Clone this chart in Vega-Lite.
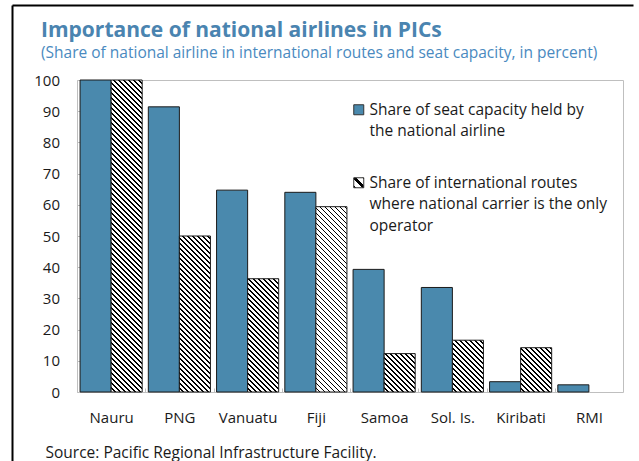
{
"$schema": "https://vega.github.io/schema/vega-lite/v6.json",
"width": 621, "height": 456,
"autosize": {"type": "none"},
"padding": {"left": 12, "top": 5, "right": 6, "bottom": 0},
"background": "#ffffff",
"params": [
{"name": "hatch", "value": [
{"offset":0,"color":"#fff"},{"offset":0.0093,"color":"#fff"},{"offset":0.0093,"color":"#000"},{"offset":0.0143,"color":"#000"},
{"offset":0.0143,"color":"#fff"},{"offset":0.0236,"color":"#fff"},{"offset":0.0236,"color":"#000"},{"offset":0.0286,"color":"#000"},
{"offset":0.0286,"color":"#fff"},{"offset":0.0379,"color":"#fff"},{"offset":0.0379,"color":"#000"},{"offset":0.0429,"color":"#000"},
{"offset":0.0429,"color":"#fff"},{"offset":0.0521,"color":"#fff"},{"offset":0.0521,"color":"#000"},{"offset":0.0571,"color":"#000"},
{"offset":0.0571,"color":"#fff"},{"offset":0.0664,"color":"#fff"},{"offset":0.0664,"color":"#000"},{"offset":0.0714,"color":"#000"},
{"offset":0.0714,"color":"#fff"},{"offset":0.0807,"color":"#fff"},{"offset":0.0807,"color":"#000"},{"offset":0.0857,"color":"#000"},
{"offset":0.0857,"color":"#fff"},{"offset":0.095,"color":"#fff"},{"offset":0.095,"color":"#000"},{"offset":0.1,"color":"#000"},
{"offset":0.1,"color":"#fff"},{"offset":0.1093,"color":"#fff"},{"offset":0.1093,"color":"#000"},{"offset":0.1143,"color":"#000"},
{"offset":0.1143,"color":"#fff"},{"offset":0.1236,"color":"#fff"},{"offset":0.1236,"color":"#000"},{"offset":0.1286,"color":"#000"},
{"offset":0.1286,"color":"#fff"},{"offset":0.1379,"color":"#fff"},{"offset":0.1379,"color":"#000"},{"offset":0.1429,"color":"#000"},
{"offset":0.1429,"color":"#fff"},{"offset":0.1521,"color":"#fff"},{"offset":0.1521,"color":"#000"},{"offset":0.1571,"color":"#000"},
{"offset":0.1571,"color":"#fff"},{"offset":0.1664,"color":"#fff"},{"offset":0.1664,"color":"#000"},{"offset":0.1714,"color":"#000"},
{"offset":0.1714,"color":"#fff"},{"offset":0.1807,"color":"#fff"},{"offset":0.1807,"color":"#000"},{"offset":0.1857,"color":"#000"},
{"offset":0.1857,"color":"#fff"},{"offset":0.195,"color":"#fff"},{"offset":0.195,"color":"#000"},{"offset":0.2,"color":"#000"},
{"offset":0.2,"color":"#fff"},{"offset":0.2093,"color":"#fff"},{"offset":0.2093,"color":"#000"},{"offset":0.2143,"color":"#000"},
{"offset":0.2143,"color":"#fff"},{"offset":0.2236,"color":"#fff"},{"offset":0.2236,"color":"#000"},{"offset":0.2286,"color":"#000"},
{"offset":0.2286,"color":"#fff"},{"offset":0.2379,"color":"#fff"},{"offset":0.2379,"color":"#000"},{"offset":0.2429,"color":"#000"},
{"offset":0.2429,"color":"#fff"},{"offset":0.2521,"color":"#fff"},{"offset":0.2521,"color":"#000"},{"offset":0.2571,"color":"#000"},
{"offset":0.2571,"color":"#fff"},{"offset":0.2664,"color":"#fff"},{"offset":0.2664,"color":"#000"},{"offset":0.2714,"color":"#000"},
{"offset":0.2714,"color":"#fff"},{"offset":0.2807,"color":"#fff"},{"offset":0.2807,"color":"#000"},{"offset":0.2857,"color":"#000"},
{"offset":0.2857,"color":"#fff"},{"offset":0.295,"color":"#fff"},{"offset":0.295,"color":"#000"},{"offset":0.3,"color":"#000"},
{"offset":0.3,"color":"#fff"},{"offset":0.3093,"color":"#fff"},{"offset":0.3093,"color":"#000"},{"offset":0.3143,"color":"#000"},
{"offset":0.3143,"color":"#fff"},{"offset":0.3236,"color":"#fff"},{"offset":0.3236,"color":"#000"},{"offset":0.3286,"color":"#000"},
{"offset":0.3286,"color":"#fff"},{"offset":0.3379,"color":"#fff"},{"offset":0.3379,"color":"#000"},{"offset":0.3429,"color":"#000"},
{"offset":0.3429,"color":"#fff"},{"offset":0.3521,"color":"#fff"},{"offset":0.3521,"color":"#000"},{"offset":0.3571,"color":"#000"},
{"offset":0.3571,"color":"#fff"},{"offset":0.3664,"color":"#fff"},{"offset":0.3664,"color":"#000"},{"offset":0.3714,"color":"#000"},
{"offset":0.3714,"color":"#fff"},{"offset":0.3807,"color":"#fff"},{"offset":0.3807,"color":"#000"},{"offset":0.3857,"color":"#000"},
{"offset":0.3857,"color":"#fff"},{"offset":0.395,"color":"#fff"},{"offset":0.395,"color":"#000"},{"offset":0.4,"color":"#000"},
{"offset":0.4,"color":"#fff"},{"offset":0.4093,"color":"#fff"},{"offset":0.4093,"color":"#000"},{"offset":0.4143,"color":"#000"},
{"offset":0.4143,"color":"#fff"},{"offset":0.4236,"color":"#fff"},{"offset":0.4236,"color":"#000"},{"offset":0.4286,"color":"#000"},
{"offset":0.4286,"color":"#fff"},{"offset":0.4379,"color":"#fff"},{"offset":0.4379,"color":"#000"},{"offset":0.4429,"color":"#000"},
{"offset":0.4429,"color":"#fff"},{"offset":0.4521,"color":"#fff"},{"offset":0.4521,"color":"#000"},{"offset":0.4571,"color":"#000"},
{"offset":0.4571,"color":"#fff"},{"offset":0.4664,"color":"#fff"},{"offset":0.4664,"color":"#000"},{"offset":0.4714,"color":"#000"},
{"offset":0.4714,"color":"#fff"},{"offset":0.4807,"color":"#fff"},{"offset":0.4807,"color":"#000"},{"offset":0.4857,"color":"#000"},
{"offset":0.4857,"color":"#fff"},{"offset":0.495,"color":"#fff"},{"offset":0.495,"color":"#000"},{"offset":0.5,"color":"#000"},
{"offset":0.5,"color":"#fff"},{"offset":0.5093,"color":"#fff"},{"offset":0.5093,"color":"#000"},{"offset":0.5143,"color":"#000"},
{"offset":0.5143,"color":"#fff"},{"offset":0.5236,"color":"#fff"},{"offset":0.5236,"color":"#000"},{"offset":0.5286,"color":"#000"},
{"offset":0.5286,"color":"#fff"},{"offset":0.5379,"color":"#fff"},{"offset":0.5379,"color":"#000"},{"offset":0.5429,"color":"#000"},
{"offset":0.5429,"color":"#fff"},{"offset":0.5521,"color":"#fff"},{"offset":0.5521,"color":"#000"},{"offset":0.5571,"color":"#000"},
{"offset":0.5571,"color":"#fff"},{"offset":0.5664,"color":"#fff"},{"offset":0.5664,"color":"#000"},{"offset":0.5714,"color":"#000"},
{"offset":0.5714,"color":"#fff"},{"offset":0.5807,"color":"#fff"},{"offset":0.5807,"color":"#000"},{"offset":0.5857,"color":"#000"},
{"offset":0.5857,"color":"#fff"},{"offset":0.595,"color":"#fff"},{"offset":0.595,"color":"#000"},{"offset":0.6,"color":"#000"},
{"offset":0.6,"color":"#fff"},{"offset":0.6093,"color":"#fff"},{"offset":0.6093,"color":"#000"},{"offset":0.6143,"color":"#000"},
{"offset":0.6143,"color":"#fff"},{"offset":0.6236,"color":"#fff"},{"offset":0.6236,"color":"#000"},{"offset":0.6286,"color":"#000"},
{"offset":0.6286,"color":"#fff"},{"offset":0.6379,"color":"#fff"},{"offset":0.6379,"color":"#000"},{"offset":0.6429,"color":"#000"},
{"offset":0.6429,"color":"#fff"},{"offset":0.6521,"color":"#fff"},{"offset":0.6521,"color":"#000"},{"offset":0.6571,"color":"#000"},
{"offset":0.6571,"color":"#fff"},{"offset":0.6664,"color":"#fff"},{"offset":0.6664,"color":"#000"},{"offset":0.6714,"color":"#000"},
{"offset":0.6714,"color":"#fff"},{"offset":0.6807,"color":"#fff"},{"offset":0.6807,"color":"#000"},{"offset":0.6857,"color":"#000"},
{"offset":0.6857,"color":"#fff"},{"offset":0.695,"color":"#fff"},{"offset":0.695,"color":"#000"},{"offset":0.7,"color":"#000"},
{"offset":0.7,"color":"#fff"},{"offset":0.7093,"color":"#fff"},{"offset":0.7093,"color":"#000"},{"offset":0.7143,"color":"#000"},
{"offset":0.7143,"color":"#fff"},{"offset":0.7236,"color":"#fff"},{"offset":0.7236,"color":"#000"},{"offset":0.7286,"color":"#000"},
{"offset":0.7286,"color":"#fff"},{"offset":0.7379,"color":"#fff"},{"offset":0.7379,"color":"#000"},{"offset":0.7429,"color":"#000"},
{"offset":0.7429,"color":"#fff"},{"offset":0.7521,"color":"#fff"},{"offset":0.7521,"color":"#000"},{"offset":0.7571,"color":"#000"},
{"offset":0.7571,"color":"#fff"},{"offset":0.7664,"color":"#fff"},{"offset":0.7664,"color":"#000"},{"offset":0.7714,"color":"#000"},
{"offset":0.7714,"color":"#fff"},{"offset":0.7807,"color":"#fff"},{"offset":0.7807,"color":"#000"},{"offset":0.7857,"color":"#000"},
{"offset":0.7857,"color":"#fff"},{"offset":0.795,"color":"#fff"},{"offset":0.795,"color":"#000"},{"offset":0.8,"color":"#000"},
{"offset":0.8,"color":"#fff"},{"offset":0.8093,"color":"#fff"},{"offset":0.8093,"color":"#000"},{"offset":0.8143,"color":"#000"},
{"offset":0.8143,"color":"#fff"},{"offset":0.8236,"color":"#fff"},{"offset":0.8236,"color":"#000"},{"offset":0.8286,"color":"#000"},
{"offset":0.8286,"color":"#fff"},{"offset":0.8379,"color":"#fff"},{"offset":0.8379,"color":"#000"},{"offset":0.8429,"color":"#000"},
{"offset":0.8429,"color":"#fff"},{"offset":0.8521,"color":"#fff"},{"offset":0.8521,"color":"#000"},{"offset":0.8571,"color":"#000"},
{"offset":0.8571,"color":"#fff"},{"offset":0.8664,"color":"#fff"},{"offset":0.8664,"color":"#000"},{"offset":0.8714,"color":"#000"},
{"offset":0.8714,"color":"#fff"},{"offset":0.8807,"color":"#fff"},{"offset":0.8807,"color":"#000"},{"offset":0.8857,"color":"#000"},
{"offset":0.8857,"color":"#fff"},{"offset":0.895,"color":"#fff"},{"offset":0.895,"color":"#000"},{"offset":0.9,"color":"#000"},
{"offset":0.9,"color":"#fff"},{"offset":0.9093,"color":"#fff"},{"offset":0.9093,"color":"#000"},{"offset":0.9143,"color":"#000"},
{"offset":0.9143,"color":"#fff"},{"offset":0.9236,"color":"#fff"},{"offset":0.9236,"color":"#000"},{"offset":0.9286,"color":"#000"},
{"offset":0.9286,"color":"#fff"},{"offset":0.9379,"color":"#fff"},{"offset":0.9379,"color":"#000"},{"offset":0.9429,"color":"#000"},
{"offset":0.9429,"color":"#fff"},{"offset":0.9521,"color":"#fff"},{"offset":0.9521,"color":"#000"},{"offset":0.9571,"color":"#000"},
{"offset":0.9571,"color":"#fff"},{"offset":0.9664,"color":"#fff"},{"offset":0.9664,"color":"#000"},{"offset":0.9714,"color":"#000"},
{"offset":0.9714,"color":"#fff"},{"offset":0.9807,"color":"#fff"},{"offset":0.9807,"color":"#000"},{"offset":0.9857,"color":"#000"},
{"offset":0.9857,"color":"#fff"},{"offset":0.995,"color":"#fff"},{"offset":0.995,"color":"#000"},{"offset":1,"color":"#000"}
]},
{"name": "legendHatch", "value": {"gradient": "linear", "x1": 0, "y1": 1, "x2": 1, "y2": 0, "stops": [
{"offset":0,"color":"#000"},{"offset":0.1,"color":"#000"},{"offset":0.1,"color":"#fff"},{"offset":0.4,"color":"#fff"},{"offset":0.4,"color":"#000"},{"offset":0.6,"color":"#000"},{"offset":0.6,"color":"#fff"},{"offset":0.9,"color":"#fff"},{"offset":0.9,"color":"#000"},{"offset":1,"color":"#000"}]}}
],
"title": {
"text": "Importance of national airlines in PICs",
"subtitle": "(Share of national airline in international routes and seat capacity, in percent)",
"anchor": "start", "frame": "group", "dx": 29, "offset": -59,
"font": "Open Sans", "fontSize": 21, "fontWeight": "bold", "color": "#4A84B0",
"subtitleFont": "Open Sans", "subtitleFontSize": 15.5, "subtitleColor": "#4A8AC0", "subtitlePadding": 5
},
"data": {"values": [
{"country": "Nauru", "series": "Share of seat capacity held by the national airline", "value": 100},
{"country": "PNG", "series": "Share of seat capacity held by the national airline", "value": 91.4},
{"country": "Vanuatu", "series": "Share of seat capacity held by the national airline", "value": 64.7},
{"country": "Fiji", "series": "Share of seat capacity held by the national airline", "value": 64.0},
{"country": "Samoa", "series": "Share of seat capacity held by the national airline", "value": 39.3},
{"country": "Sol. Is.", "series": "Share of seat capacity held by the national airline", "value": 33.5},
{"country": "Kiribati", "series": "Share of seat capacity held by the national airline", "value": 3.3},
{"country": "RMI", "series": "Share of seat capacity held by the national airline", "value": 2.3},
{"country": "Nauru", "series": "Share of international routes where national carrier is the only operator", "value": 100},
{"country": "PNG", "series": "Share of international routes where national carrier is the only operator", "value": 50},
{"country": "Vanuatu", "series": "Share of international routes where national carrier is the only operator", "value": 36.3},
{"country": "Fiji", "series": "Share of international routes where national carrier is the only operator", "value": 59.4},
{"country": "Samoa", "series": "Share of international routes where national carrier is the only operator", "value": 12.3},
{"country": "Sol. Is.", "series": "Share of international routes where national carrier is the only operator", "value": 16.6},
{"country": "Kiribati", "series": "Share of international routes where national carrier is the only operator", "value": 14.2},
{"country": "RMI", "series": "Share of international routes where national carrier is the only operator", "value": 0}
]},
"resolve": {"scale": {"x": "independent", "y": "independent"}, "axis": {"x": "independent", "y": "independent"}},
"layer": [
{
"mark": {"type": "point", "opacity": 0},
"encoding": {
"x": {"field": "value", "type": "quantitative", "scale": {"domain": [0, 100], "nice": false},
 "axis": {"orient": "top", "title": null, "labels": false, "ticks": false, "grid": false, "domain": true, "domainColor": "#000000", "domainWidth": 2}},
"y": {"field": "value", "type": "quantitative", "scale": {"domain": [0, 100], "nice": false},
 "axis": {"orient": "left", "title": null, "labels": false, "ticks": false, "grid": false, "domain": true, "domainColor": "#000000", "domainWidth": 2}}
}
},
{
"mark": {"type": "point", "opacity": 0},
"encoding": {
"x": {"field": "value", "type": "quantitative", "scale": {"domain": [0, 100], "nice": false, "range": [65, 611]},
 "axis": {"orient": "top", "offset": -75, "title": null, "labels": false, "ticks": false, "grid": false, "domain": true, "domainColor": "#BFBFBF", "domainWidth": 1}},
"y": {"field": "value", "type": "quantitative", "scale": {"domain": [0, 100], "nice": false, "range": [387, 75]},
 "axis": {"orient": "right", "offset": -10, "title": null, "labels": false, "ticks": false, "grid": false, "domain": true, "domainColor": "#BFBFBF", "domainWidth": 1}}
}
},
{
"mark": {"type": "bar", "stroke": "#1a1a1a", "strokeWidth": 1},
"encoding": {
"x": {"field": "country", "type": "nominal",
 "sort": ["Nauru", "PNG", "Vanuatu", "Fiji", "Samoa", "Sol. Is.", "Kiribati", "RMI"],
 "scale": {"range": [65, 611], "paddingInner": 0.09, "paddingOuter": 0.045},
 "axis": {"orient": "bottom", "offset": -69, "title": "Source: Pacific Regional Infrastructure Facility.", "titleFont": "Open Sans", "titleFontSize": 15.5, "titleFontWeight": "normal", "titleColor": "#1a1a1a", "titleAnchor": "start", "titleAlign": "left", "titleBaseline": "alphabetic", "titleX": 33, "titleY": 65,
  "labelAngle": 0, "labelPadding": 22, "ticks": true, "tickSize": -4, "tickOffset": -34.125, "labelOffset": 34.125, "domain": true, "domainColor": "#BFBFBF"}},
"xOffset": {"field": "series", "type": "nominal",
 "sort": ["Share of seat capacity held by the national airline", "Share of international routes where national carrier is the only operator"],
 "scale": {"paddingInner": 0, "paddingOuter": 0}},
"y": {"field": "value", "type": "quantitative", "scale": {"domain": [0, 100], "nice": false, "range": [387, 75]},
 "axis": {"orient": "left", "offset": -65, "values": [0, 10, 20, 30, 40, 50, 60, 70, 80, 90, 100], "title": null, "tickSize": -4, "labelPadding": 21.5, "domain": true, "domainColor": "#BFBFBF"}},
"fill": {"field": "series", "type": "nominal",
 "scale": {"domain": ["Share of seat capacity held by the national airline", "Share of international routes where national carrier is the only operator"], "range": ["#4A89AD", {"expr": "legendHatch"}]},
 "legend": {"title": null, "orient": "none", "legendX": 339, "legendY": 97, "padding": 0, "symbolType": "square", "symbolSize": 100, "symbolStrokeColor": "#333333", "symbolStrokeWidth": 1, "labelFont": "Open Sans", "labelFontSize": 15.5, "labelColor": "#1a1a1a", "labelLimit": 0, "labelOffset": 3, "rowPadding": 35,
  "labelExpr": "indexof(datum.label, 'seat') >= 0 ? ['Share of seat capacity held by', 'the national airline'] : ['Share of international routes', 'where national carrier is the only', 'operator']"},
 "condition": [
  {"test": "datum.country === 'Nauru' && indexof(datum.series, 'routes') >= 0", "value": {"expr": "{gradient: 'linear', x1: 0, y1: 1, x2: 0.11058, y2: -0.11079, stops: hatch}"}},
  {"test": "datum.country === 'PNG' && indexof(datum.series, 'routes') >= 0", "value": {"expr": "{gradient: 'linear', x1: 0, y1: 1, x2: 0.42967, y2: -1.15804, stops: hatch}"}},
  {"test": "datum.country === 'Vanuatu' && indexof(datum.series, 'routes') >= 0", "value": {"expr": "{gradient: 'linear', x1: 0, y1: 1, x2: 0.78824, y2: -1.87419, stops: hatch}"}},
  {"test": "datum.country === 'Fiji' && indexof(datum.series, 'routes') >= 0", "value": {"expr": "{gradient: 'linear', x1: 0, y1: 1, x2: 0.30786, y2: -0.83694, stops: hatch}"}},
  {"test": "datum.country === 'Samoa' && indexof(datum.series, 'routes') >= 0", "value": {"expr": "{gradient: 'linear', x1: 0, y1: 1, x2: 4.46008, y2: -4.51063, stops: hatch}"}},
  {"test": "datum.country === 'Sol. Is.' && indexof(datum.series, 'routes') >= 0", "value": {"expr": "{gradient: 'linear', x1: 0, y1: 1, x2: 2.98072, y2: -3.9703, stops: hatch}"}},
  {"test": "datum.country === 'Kiribati' && indexof(datum.series, 'routes') >= 0", "value": {"expr": "{gradient: 'linear', x1: 0, y1: 1, x2: 3.71341, y2: -4.29681, stops: hatch}"}}
 ]},
"strokeOpacity": {"condition": {"test": "datum.value > 0", "value": 1}, "value": 0}
}
}
],
"config": {
 "font": "Open Sans",
 "view": {"stroke": null},
 "axis": {"labelFont": "Open Sans", "labelFontSize": 15, "labelColor": "#1a1a1a", "grid": false, "tickColor": "#BFBFBF", "tickWidth": 1},
 "style": {"guide-label": {"lineHeight": 21.5}}
}
}
